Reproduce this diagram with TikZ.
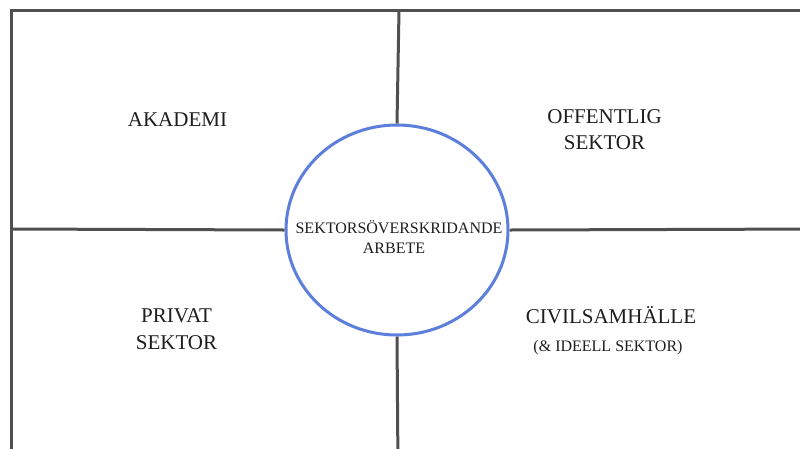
\documentclass[tikz,border=0pt]{standalone}
\usepackage{fontspec}
\setmainfont{Liberation Serif}
\newfontfamily\serifface{Liberation Serif}
\usetikzlibrary{shapes.geometric}
\definecolor{framegray}{HTML}{505050}
\definecolor{ringblue}{HTML}{5B7FDB}
\definecolor{txt}{HTML}{1E1E1E}
\tikzset{
  frameline/.style={draw=framegray, line width=3pt},
  ring/.style={ellipse, draw=ringblue, line width=3pt, minimum width=222pt, minimum height=210pt, inner sep=0pt},
  bigtxt/.style={anchor=base, text=txt, font=\serifface\fontsize{21}{25}\selectfont, inner sep=0pt},
  smalltxt/.style={anchor=base, text=txt, font=\serifface\fontsize{16}{19}\selectfont, inner sep=0pt}
}
\begin{document}
\begin{tikzpicture}[x=1pt,y=-1pt]
\useasboundingbox (0,0) rectangle (800,448);
\clip (0,0) rectangle (800,448);
\fill[white] (0,0) rectangle (800,448);
% frame
\coordinate (tl) at (11,10);
\coordinate (topmid) at (399,10);
\coordinate (botmid) at (398,470);
\coordinate (leftmid) at (11,229);
\coordinate (rightmid) at (820,229);
\draw[frameline] (11,470) -- (tl) -- (820,10);
% central ring
\node[ring] (c) at (397,230) {};
\draw[frameline] (topmid) -- (c.north);
\draw[frameline] (c.south) -- (botmid);
\draw[frameline] (leftmid) -- (c.west);
\draw[frameline] (c.east) -- (rightmid);
% labels
\node[smalltxt] (mid1) at (399,233) {SEKTORSÖVERSKRIDANDE};
\node[smalltxt] (mid2) at (394,253) {ARBETE};
\node[bigtxt] (aka) at (177.5,126) {AKADEMI};
\node[bigtxt] (off1) at (604.5,123) {OFFENTLIG};
\node[bigtxt] (off2) at (604.5,149) {SEKTOR};
\node[bigtxt] (pri1) at (176.5,322) {PRIVAT};
\node[bigtxt] (pri2) at (176.5,349) {SEKTOR};
\node[bigtxt] (civ1) at (611,323) {CIVILSAMHÄLLE};
\node[smalltxt] (civ2) at (608,351) {(\& IDEELL SEKTOR)};
\end{tikzpicture}
\end{document}
